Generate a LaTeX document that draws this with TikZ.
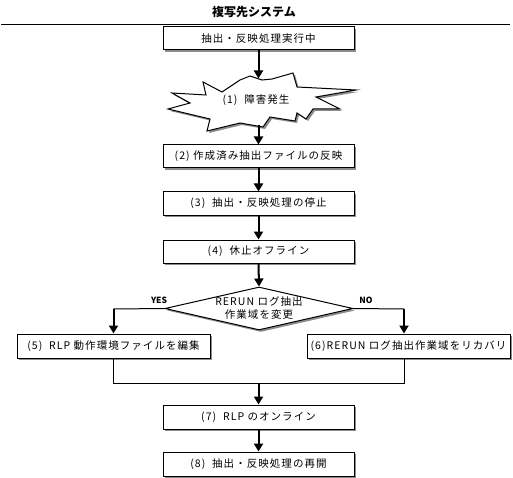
\documentclass[tikz,border=0pt]{standalone}
\usepackage{fontspec}
\setmainfont{Noto Sans CJK JP}
\newfontfamily\jpspaced[LetterSpace=10]{Noto Sans CJK JP}
\usetikzlibrary{arrows.meta,shapes.geometric,shadows}
\newcommand{\jptext}{\jpspaced\fontsize{10.5}{14}\selectfont}
\newcommand{\titletext}{\bfseries\fontsize{12}{14}\selectfont}
\newcommand{\yntext}{\bfseries\fontsize{8.5}{10}\selectfont}
\tikzset{
  shad/.style={drop shadow={shadow xshift=2pt,shadow yshift=-2pt,fill=black!45,opacity=1}},
  stepbox/.style={draw,fill=white,line width=1pt,shad,minimum height=23pt,minimum width=191pt,inner sep=0pt,font=\jptext},
  thickarrow/.style={line width=2pt,-{Triangle[width=9pt,length=8pt]}},
  thinline/.style={line width=1pt},
}
\begin{document}
\begin{tikzpicture}[x=1pt,y=-1pt]
\useasboundingbox (0,0) rectangle (513,478);
% title
\node[font=\titletext] (title) at (254,12) {複写先システム};
\coordinate (tl) at (1,24.5);
\coordinate (tr) at (510,24.5);
\draw[thinline] (tl) -- (tr);
% boxes
\node[stepbox] (b0) at (258.5,38.5) {抽出・反映処理実行中};
% burst
\def\burst{(203,82) -- (222,92) -- (240,80) -- (250,76) -- (262,80) -- (272,79) -- (293,73) -- (297,87) -- (356,90) -- (316,97) -- (340,109) -- (313,109) -- (306,119) -- (297,113) -- (295,121) -- (270,117) -- (263,127) -- (240,123) -- (207,131) -- (210,119) -- (168,109) -- (190,103) -- (172,93) -- (206,95) -- cycle}
\fill[black!45,shift={(2,2)}] \burst;
\draw[fill=white,line width=1pt,line join=miter] \burst;
\node[font=\jptext] (b1) at (256,100) {(1)\ \ 障害発生};
\coordinate (bt) at (258.5,78.5);
\coordinate (bb) at (258.5,125.5);
\node[stepbox] (b2) at (258.5,156.5) {(2)\ 作成済み抽出ファイルの反映};
\node[stepbox] (b3) at (258.5,203.5) {(3)\ \ 抽出・反映処理の停止};
\node[stepbox] (b4) at (258.5,251.5) {(4)\ \ 休止オフライン};
% decision
\node[draw,fill=white,line width=1pt,shad,shape=diamond,aspect=4.37,minimum width=188pt,minimum height=43pt,inner sep=0pt] (d) at (259,308.5) {};
\node[font=\jptext,align=center] (dt) at (259,308) {RERUN ログ抽出\\[-1pt]作業域を変更};
\node[font=\yntext] (yes) at (159,300.5) {YES};
\node[font=\yntext] (no) at (366,300.5) {NO};
\node[stepbox,minimum width=193pt,minimum height=24pt] (b5) at (113.5,346) {(5)\ \ RLP 動作環境ファイルを編集};
\node[stepbox,minimum width=203pt,minimum height=24pt] (b6) at (408.5,346) {(6)RERUN ログ抽出作業域をリカバリ};
\node[stepbox,minimum height=24pt] (b7) at (258.5,417) {(7)\ \ RLP のオンライン};
\node[stepbox,minimum height=24pt] (b8) at (258.5,464) {(8)\ \ 抽出・反映処理の再開};
% connectors
\draw[thickarrow] (b0.south) -- (bt);
\draw[thickarrow] (bb) -- (b2.north);
\draw[thickarrow] (b2.south) -- (b3.north);
\draw[thickarrow] (b3.south) -- (b4.north);
\draw[thickarrow] (b4.south) -- (d.north);
\coordinate (yl) at (113.5,309);
\coordinate (nr) at (404,309);
\draw[thinline] (d.west) -- (yl);
\draw[thinline] (d.east) -- (nr);
\draw[thickarrow] (yl) -- (b5.north);
\draw[thickarrow] (nr) -- (b6.north -| nr);
\coordinate (m5) at (113.5,383);
\coordinate (m6) at (404,383);
\coordinate (mm) at (258.5,383);
\draw[thinline] (b5.south) -- (m5) -- (m6) -- (b6.south -| m6);
\draw[thickarrow] (mm) -- (b7.north);
\draw[thickarrow] (b7.south) -- (b8.north);
\end{tikzpicture}
\end{document}
